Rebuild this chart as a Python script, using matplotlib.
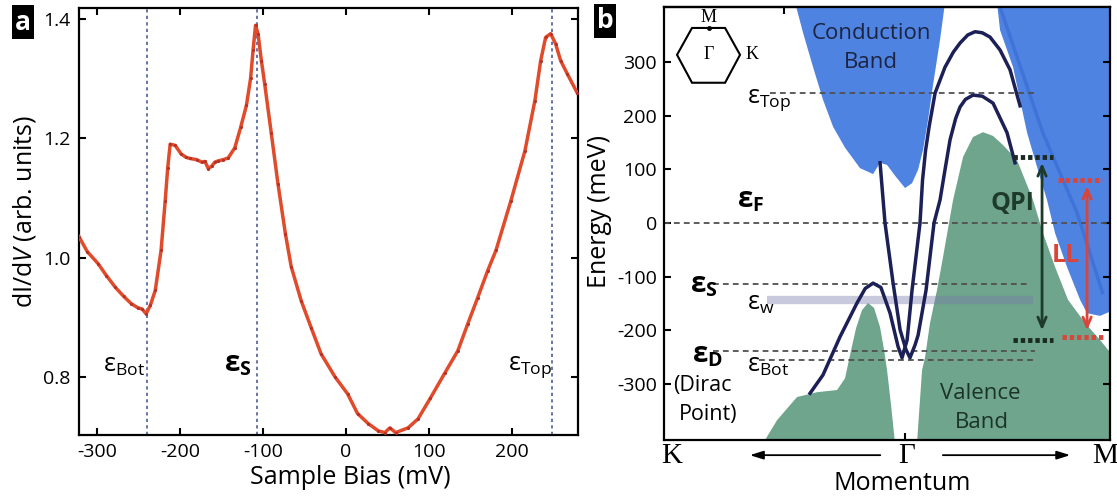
import numpy as np
import matplotlib
matplotlib.use('Agg')
import matplotlib.pyplot as plt
from matplotlib.patches import Polygon

W, H = 1117, 499
plt.rcParams['font.family'] = ['Open Sans', 'DejaVu Sans']
plt.rcParams['mathtext.fontset'] = 'custom'
plt.rcParams['mathtext.rm'] = 'Open Sans'
plt.rcParams['mathtext.it'] = 'Open Sans:italic'
plt.rcParams['mathtext.bf'] = 'Open Sans:bold'

# ---------------- Panel a data ----------------
bias = [-322, -312, -299, -289, -278, -268, -259, -251, -246, -241, -236, -230, -223,
        -218, -215, -212, -206, -199, -193, -188, -180, -174, -170, -166, -162, -158,
        -154, -148, -142, -134, -127, -120, -115, -112, -109, -106, -102, -98, -90,
        -82, -73, -66, -54, -42, -30, -13, 2, 14, 27, 39, 47, 53, 60, 75, 87, 102,
        119, 135, 147, 159, 171, 181, 199, 216, 228, 235, 241, 247, 253, 259, 267, 279]
didv = [1.035, 1.010, 0.990, 0.970, 0.950, 0.935, 0.923, 0.916, 0.914, 0.906, 0.920,
        0.945, 1.012, 1.095, 1.150, 1.190, 1.188, 1.174, 1.168, 1.166, 1.164, 1.160,
        1.161, 1.149, 1.153, 1.160, 1.162, 1.164, 1.167, 1.184, 1.218, 1.255, 1.300,
        1.347, 1.389, 1.375, 1.330, 1.291, 1.208, 1.124, 1.040, 0.985, 0.928, 0.883,
        0.839, 0.800, 0.772, 0.739, 0.722, 0.710, 0.707, 0.715, 0.707, 0.715, 0.730,
        0.765, 0.806, 0.844, 0.889, 0.933, 0.978, 1.012, 1.095, 1.179, 1.263, 1.330,
        1.369, 1.375, 1.358, 1.330, 1.308, 1.276]
marker_bias = [-240, -107, 249]
xticks_a = [-300, -200, -100, 0, 100, 200]
yticks_a = [0.8, 1.0, 1.2, 1.4]

# ---------------- Panel b data ----------------
cb_left_k = [-0.911, -0.845, -0.762, -0.679, -0.596, -0.497, -0.373, -0.265, -0.207,
             -0.149, -0.083, 0.0, 0.058, 0.108, 0.149, 0.191, 0.232, 0.29, 0.331]
cb_left_e = [410, 354, 290, 229, 179, 140, 102, 91, 112, 108, 88, 65, 74, 99, 136,
             192, 257, 341, 410]
cb_right_k = [0.762, 0.787, 0.895, 1.011, 1.094, 1.176, 1.243, 1.342, 1.450, 1.508,
              1.616, 1.75, 1.75]
cb_right_e = [410, 359, 290, 168, 104, 43, -19, -82, -143, -168, -173, -160, 410]
cb_edge_k = [0.787, 1.143, 1.425, 1.636]
cb_edge_e = [402, 167, 19, -130]

vb_left_k = [-1.176, -1.060, -0.895, -0.729, -0.563, -0.497, -0.456, -0.406, -0.356,
             -0.307, -0.257, -0.207, -0.174, -0.149, -0.116, -0.083]
vb_left_e = [-410, -367, -324, -315, -311, -289, -246, -196, -162, -149, -158, -194,
             -236, -274, -339, -410]
vb_right_k = [0.099, 0.141, 0.166, 0.207, 0.265, 0.315, 0.398, 0.481, 0.563, 0.646,
              0.729, 0.812, 0.928, 1.060, 1.143, 1.243, 1.350, 1.491, 1.616, 1.75, 1.75]
vb_right_e = [-410, -274, -250, -186, -125, -63, 43, 123, 160, 169, 162, 145, 117, 43,
              -19, -82, -143, -186, -218, -255, -410]

band1_k = [-0.787, -0.68, -0.539, -0.398, -0.33, -0.265, -0.2, -0.124, -0.058, -0.025,
           0.017, 0.058, 0.124, 0.145, 0.17, 0.2, 0.249, 0.331, 0.4, 0.456, 0.52, 0.58,
           0.64, 0.704, 0.787, 0.87, 0.953]
band1_e = [-317, -283, -212, -149, -122, -112, -120, -168, -230, -251, -218, -125, 0,
           80, 135, 180, 242, 290, 318, 335, 350, 356, 354, 346, 322, 285, 218]
band2_k = [-0.207, -0.166, -0.099, -0.041, 0.008, 0.041, 0.083, 0.108, 0.174, 0.24,
           0.29, 0.331, 0.373, 0.42, 0.456, 0.5, 0.563, 0.64, 0.729, 0.845, 0.911]
band2_e = [112, 0, -112, -199, -236, -251, -227, -209, -125, 0, 43, 99, 155, 195, 216,
           230, 238, 236, 223, 168, 112]

level_e = [242, 0, -114, -238, -255]
level_k0 = [-1.118, -1.997, -1.59, -1.59, -1.21]
level_k1 = [1.077, 1.698, 1.036, 1.077, 1.06]
ew_e = -143
ew_k = [-1.143, 1.06]

qpi_e = [123, -218]
qpi_k = [0.895, 1.226]
qpi_arrow_k = 1.135
qpi_arrow_e = [117, -205]
ll_e = [80, -212]
ll_k = [[1.268, 1.632], [1.30, 1.657]]
ll_arrow_k = 1.508
ll_arrow_e = [74, -205]

hex_k = [-1.889, -1.765, -1.491, -1.367, -1.491, -1.765]
hex_e = [313, 363, 363, 313, 261, 261]
yticks_b = [-300, -200, -100, 0, 100, 200, 300]

BLUE = '#4f83e2'
BLUE_D = '#3d6fd6'
GREEN = '#6fa58c'
NAVY = '#1d2057'
DGREEN = '#1e3a2a'
RED = '#d9453b'
GRAY = '#505050'

fig = plt.figure(figsize=(W / 100, H / 100), dpi=100)

def fpx(px, py):
    return px / W, 1 - py / H

# ================= Panel a =================
axa = fig.add_axes([79 / W, 1 - 435 / H, 499 / W, 427 / H])
axa.plot(bias, didv, color='#e04b2c', lw=2.5, marker='o', ms=2.2,
         mfc='#b53026', mec='none', zorder=3)
for v in marker_bias:
    axa.axvline(v, color='#5a6aa5', lw=1.3, dashes=(1.8, 1.8), zorder=2)
axa.set_xlim(-322, 280)
axa.set_ylim(0.703, 1.418)
axa.set_xticks(xticks_a)
axa.set_xticklabels([str(t) for t in xticks_a])
axa.set_yticks(yticks_a)
axa.set_yticklabels(['%.1f' % t for t in yticks_a])
axa.tick_params(direction='in', top=True, right=True, length=5, width=1.5,
                labelsize=14, pad=6)
for s in axa.spines.values():
    s.set_linewidth(1.6)

axa.text(-293, 0.809, r'$\mathrm{ε}_{\mathrm{Bot}}$', fontsize=18, va='baseline', zorder=5)
axa.text(-147, 0.809, r'$\mathbf{ε}_{\mathbf{S}}$', fontsize=20, va='baseline', zorder=5)
axa.text(195, 0.812, r'$\mathrm{ε}_{\mathrm{Top}}$', fontsize=18, va='baseline', zorder=5)

fig.text(*fpx(24, 211), r'dI/d$\mathit{V}$ (arb. units)', rotation=90, fontsize=18,
         ha='center', va='center')
fig.text(*fpx(350, 478), 'Sample Bias (mV)', fontsize=18, ha='center', va='center')

# ================= Panel b =================
axb = fig.add_axes([664 / W, 1 - 440 / H, 446 / W, 433 / H])
axb.set_xlim(-1.997, 1.698)
axb.set_ylim(-404, 402)

for kk, ee, col in [(cb_left_k, cb_left_e, BLUE), (cb_right_k, cb_right_e, BLUE),
                    (vb_left_k, vb_left_e, GREEN), (vb_right_k, vb_right_e, GREEN)]:
    axb.add_patch(Polygon(np.column_stack([kk, ee]), closed=True, fc=col, ec='none',
                          zorder=1))
axb.plot(cb_edge_k, cb_edge_e, color=BLUE_D, lw=2.5, alpha=0.8, zorder=1.5)

for e, k0, k1 in zip(level_e, level_k0, level_k1):
    axb.plot([k0, k1], [e, e], color=GRAY, lw=1.3, dashes=(3.2, 2.3), zorder=2)
axb.plot(ew_k, [ew_e, ew_e], color='#7878aa', alpha=0.4, lw=6, solid_capstyle='butt',
         zorder=2.5)

axb.plot(band1_k, band1_e, color=NAVY, lw=2.5, zorder=3, solid_joinstyle='round')
axb.plot(band2_k, band2_e, color=NAVY, lw=2.5, zorder=3, solid_joinstyle='round')

for e in qpi_e:
    axb.plot(qpi_k, [e, e], color='#1a2a20', lw=3.5, dashes=(0.9, 0.6), zorder=4)
axb.annotate('', xy=(qpi_arrow_k, qpi_arrow_e[0]), xytext=(qpi_arrow_k, qpi_arrow_e[1]),
             arrowprops=dict(arrowstyle='<->,head_length=0.7,head_width=0.3',
                             color=DGREEN, lw=2), zorder=4)
for e, kr in zip(ll_e, ll_k):
    axb.plot(kr, [e, e], color=RED, lw=3.5, dashes=(0.9, 0.6), zorder=4)
axb.annotate('', xy=(ll_arrow_k, ll_arrow_e[0]), xytext=(ll_arrow_k, ll_arrow_e[1]),
             arrowprops=dict(arrowstyle='<->,head_length=0.7,head_width=0.3',
                             color=RED, lw=2), zorder=4)

axb.text(0.887, 37, 'QPI', fontsize=18, fontweight='bold', color=DGREEN,
         ha='center', va='center', zorder=5)
axb.text(1.334, -61, 'LL', fontsize=18, fontweight='bold', color=RED,
         ha='center', va='center', zorder=5)
axb.text(-0.282, 352, 'Conduction', fontsize=16, color='#1b2440', ha='center',
         va='center', zorder=5)
axb.text(-0.282, 298, 'Band', fontsize=16, color='#1b2440', ha='center', va='center',
         zorder=5)
axb.text(0.621, -317, 'Valence', fontsize=16, color='#1b3328', ha='center',
         va='center', zorder=5)
axb.text(0.64, -372, 'Band', fontsize=16, color='#1b3328', ha='center', va='center',
         zorder=5)

axb.text(-1.392, 28, r'$\mathbf{ε}_{\mathbf{F}}$', fontsize=20, va='baseline', zorder=5)
axb.text(-1.309, 223, r'$\mathrm{ε}_{\mathrm{Top}}$', fontsize=18, va='baseline', zorder=5)
axb.text(-1.781, -130, r'$\mathbf{ε}_{\mathbf{S}}$', fontsize=20, va='baseline', zorder=5)
axb.text(-1.309, -162, r'$\mathrm{ε}_{\mathrm{w}}$', fontsize=18, va='baseline', zorder=5)
axb.text(-1.765, -259, r'$\mathbf{ε}_{\mathbf{D}}$', fontsize=20, va='baseline', zorder=5)
axb.text(-1.309, -277, r'$\mathrm{ε}_{\mathrm{Bot}}$', fontsize=18, va='baseline', zorder=5)
axb.text(-1.68, -303, '(Dirac', fontsize=15.5, ha='center', va='center', zorder=5)
axb.text(-1.63, -357, 'Point)', fontsize=15.5, ha='center', va='center', zorder=5)

# Brillouin-zone inset
axb.add_patch(Polygon(np.column_stack([hex_k, hex_e]), closed=True, fc='none',
                      ec='black', lw=1.5, zorder=5))
axb.plot([np.mean(hex_k)], [max(hex_e)], 'o', color='black', ms=2.5, zorder=5)
serif = ['Liberation Serif', 'DejaVu Serif']
axb.text(np.mean(hex_k), 382, 'M', family=serif, fontsize=13, ha='center', va='center')
axb.text(np.mean(hex_k), 313, 'Γ', family=serif, fontsize=13, ha='center', va='center')
axb.text(-1.268, 313, 'K', family=serif, fontsize=13, ha='center', va='center')

axb.set_yticks(yticks_b)
axb.set_yticklabels([str(t) for t in yticks_b])
axb.set_xticks([0])
axb.tick_params(direction='in', left=True, right=True, length=5, width=1.5,
                labelsize=14, pad=5, labelbottom=False)
sec = axb.secondary_xaxis('top')
sec.set_xticks([-1, 0, 1])
sec.tick_params(direction='in', length=5, width=1.5, labeltop=False)
sec.spines['top'].set_linewidth(1.6)
for s in axb.spines.values():
    s.set_linewidth(1.6)

tr = axb.get_xaxis_transform()
axb.text(-1.93, -0.037, 'K', transform=tr, family=serif, fontsize=21, ha='center',
         va='center', clip_on=False)
axb.text(0.017, -0.037, 'Γ', transform=tr, family=serif, fontsize=21, ha='center',
         va='center', clip_on=False)
axb.text(1.657, -0.037, 'M', transform=tr, family=serif, fontsize=21, ha='center',
         va='center', clip_on=False)
axb.annotate('', xy=(-1.309, -0.035), xytext=(-0.182, -0.035), xycoords=tr,
             textcoords=tr, annotation_clip=False,
             arrowprops=dict(arrowstyle='-|>,head_length=0.8,head_width=0.25',
                             color='black', lw=1.3))
axb.annotate('', xy=(1.392, -0.035), xytext=(0.29, -0.035), xycoords=tr,
             textcoords=tr, annotation_clip=False,
             arrowprops=dict(arrowstyle='-|>,head_length=0.8,head_width=0.25',
                             color='black', lw=1.3))

fig.text(*fpx(599, 212), 'Energy (meV)', rotation=90, fontsize=18, ha='center',
         va='center')
fig.text(*fpx(902, 484), 'Momentum', fontsize=18, ha='center', va='center')

# panel letters
fig.text(*fpx(23, 22), 'a', fontsize=19, fontweight='bold', color='white',
         ha='center', va='center',
         bbox=dict(boxstyle='square,pad=0.12', fc='black', ec='none'))
fig.text(*fpx(605, 21), 'b', fontsize=19, fontweight='bold', color='white',
         ha='center', va='center',
         bbox=dict(boxstyle='square,pad=0.12', fc='black', ec='none'))

fig.savefig('out.png', dpi=100)
